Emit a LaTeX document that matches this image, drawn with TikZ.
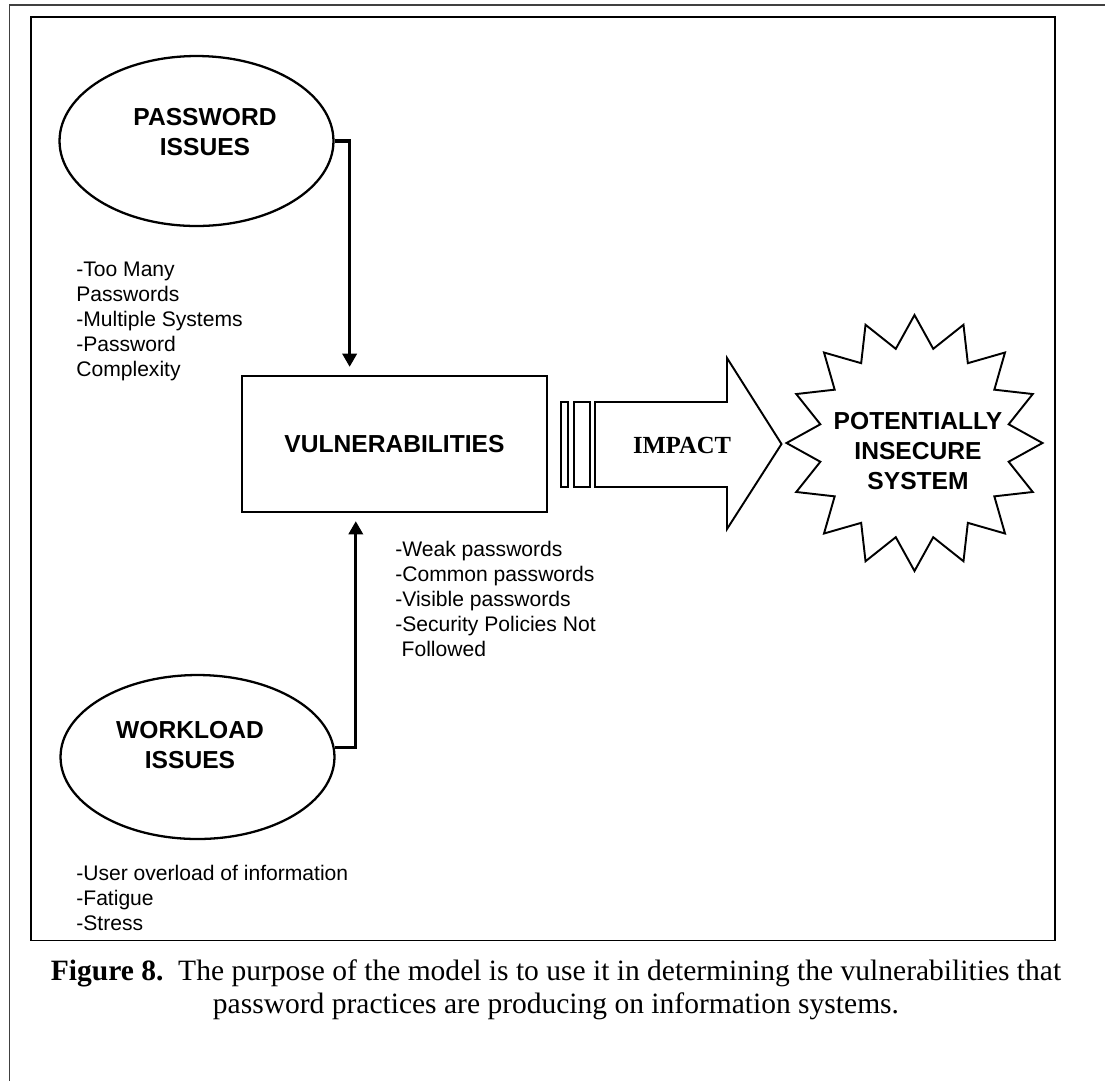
\documentclass[tikz,border=0pt]{standalone}
\usepackage{fontspec}
\setmainfont{Liberation Sans}
\newfontfamily\capfont{Liberation Serif}
\usetikzlibrary{arrows.meta,shapes.geometric,calc}

\begin{document}
\begin{tikzpicture}[x=0.02cm,y=-0.02cm,
	outline/.style={draw,line width=1.3pt},
	issue/.style={outline,ellipse,minimum width=5.48cm,inner sep=0},
	heading/.style={font=\bfseries\fontsize{14}{17}\selectfont,align=center,inner sep=0},
	notes/.style={font=\fontsize{12}{14.2}\selectfont,align=left,anchor=base west,inner sep=0},
	feed/.style={line width=1.8pt,-{Triangle[width=8pt,length=7.5pt]},shorten >=0.16cm}]
	\useasboundingbox (0,0) rectangle (1105,1080);
	% frames
	\draw[line width=1pt,black!75] (9.5,1100) -- (9.5,5) -- (1120,5);
	\draw[line width=1pt] (31,16.7) rectangle (1055,940.5);
	% issues
	\node[issue,minimum height=3.4cm] (pw) at (196.5,141) {};
	\node[heading] (pwlabel) at (205,132) {PASSWORD\\ISSUES};
	\node[issue,minimum height=3.28cm] (wl) at (197.5,757) {};
	\node[heading] (wllabel) at (190,745) {WORKLOAD\\ISSUES};
	\node[outline,heading,minimum width=6.1cm,minimum height=2.72cm] (vul) at (394.5,444) {VULNERABILITIES};
	% notes (base = last line)
	\node[notes] (pwnotes) at (76,376.7) {-Too Many\\Passwords\\-Multiple Systems\\-Password\\Complexity};
	\node[notes] (vulnotes) at (395,656) {-Weak passwords\\-Common passwords\\-Visible passwords\\-Security Policies Not\\\hspace{0.3em}Followed};
	\node[notes] (wlnotes) at (76,930) {-User overload of information\\-Fatigue\\-Stress};
	% feeds into the box
	\draw[feed] (pw.east) -| ($(vul.north west)!0.354!(vul.north east)$);
	\draw[feed] (wl.4) -| ($(vul.south west)!0.374!(vul.south east)$);
	% impact arrow
	\foreach \a/\b in {560.7/568.3,574.3/590}
		\draw[line width=1.1pt] (\a,401.7) rectangle (\b,487);
	\draw[line width=1.1pt] (595,402) -- (727,402) -- (727,358) -- (781.5,444) -- (727,529) -- (727,487) -- (595,487) -- cycle;
	\node[font=\capfont\bfseries\fontsize{14}{17}\selectfont,inner sep=0] (impact) at (682,445) {IMPACT};
	% result
	\node[draw,star,star points=16,star point ratio=1.333,minimum size=5.12cm,inner sep=0,line width=1.1pt] (sys) at (914.5,443) {};
	\node[heading] (syslabel) at (918,451) {POTENTIALLY\\INSECURE\\SYSTEM};
	% caption
	\node[anchor=base,align=center,inner sep=0,font=\capfont\fontsize{16.8}{18.7}\selectfont] (caption) at (556,1013) {\textbf{Figure 8.}\ \ The purpose of the model is to use it in determining the vulnerabilities that\\password practices are producing on information systems.};
\end{tikzpicture}
\end{document}
